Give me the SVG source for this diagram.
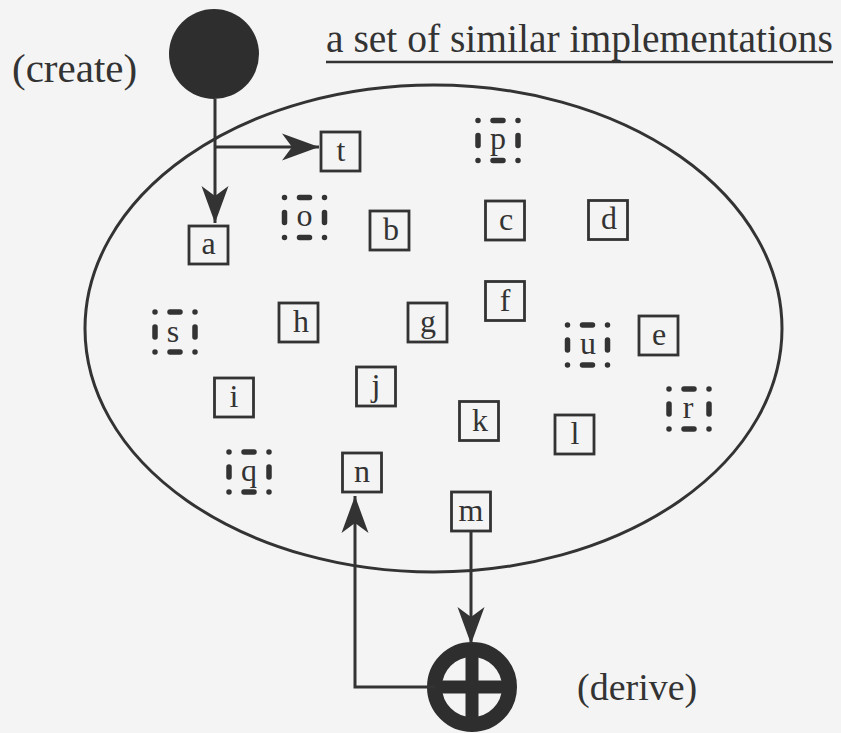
<svg xmlns="http://www.w3.org/2000/svg" width="841" height="733" viewBox="0 0 841 733">
  <defs>
    <style>
      text { font-family: "Liberation Serif", "Times New Roman", serif; fill: #333; }
      .lbl { font-size: 32px; text-anchor: middle; }
      .box { fill: none; stroke: #333; stroke-width: 2.8; }
      .dot { fill: none; stroke: #333; stroke-width: 5.5; stroke-linecap: round; stroke-dasharray: 0 15 10 15; }
      .wire { fill: none; stroke: #333; stroke-width: 3; }
    </style>
    <marker id="arrow" viewBox="0 0 38 30" refX="37" refY="15" markerUnits="userSpaceOnUse" markerWidth="38" markerHeight="30" orient="auto">
      <path d="M37,15 L0,1.5 L10,15 L0,28.5 Z" fill="#333"/>
    </marker>
  </defs>

  <rect width="841" height="733" fill="#f4f4f4"/>

  <!-- the set -->
  <ellipse cx="433.5" cy="328.5" rx="348.5" ry="243.5" fill="none" stroke="#333" stroke-width="3"/>
  <text x="326" y="52" font-size="39.5">a set of similar implementations</text>
  <line x1="326" y1="62" x2="833" y2="62" stroke="#333" stroke-width="2.5"/>

  <!-- create source -->
  <g id="create">
    <circle cx="214" cy="54" r="45" fill="#2e2e2e"/>
    <text x="12" y="82" font-size="41">(create)</text>
  </g>

  <!-- derive operator -->
  <g id="derive">
    <circle cx="472" cy="687" r="37.5" fill="none" stroke="#2e2e2e" stroke-width="15"/>
    <line x1="472" y1="650" x2="472" y2="724" stroke="#2e2e2e" stroke-width="13"/>
    <line x1="435" y1="687" x2="509" y2="687" stroke="#2e2e2e" stroke-width="13"/>
    <text x="577" y="700" font-size="38">(derive)</text>
  </g>

  <!-- implementations -->
  <g id="node-a"><rect class="box" x="189" y="226" width="39" height="38"/><text class="lbl" x="208.5" y="254">a</text></g>
  <g id="node-t"><rect class="box" x="321" y="132" width="39" height="39"/><text class="lbl" x="341" y="161">t</text></g>
  <g id="node-b"><rect class="box" x="370" y="211" width="39" height="39"/><text class="lbl" x="391" y="240">b</text></g>
  <g id="node-c"><rect class="box" x="485.5" y="201" width="39" height="39"/><text class="lbl" x="506" y="230">c</text></g>
  <g id="node-d"><rect class="box" x="588.5" y="200.5" width="39" height="39"/><text class="lbl" x="609" y="229">d</text></g>
  <g id="node-h"><rect class="box" x="279" y="303" width="39" height="39"/><text class="lbl" x="301" y="332">h</text></g>
  <g id="node-g"><rect class="box" x="408" y="303" width="39" height="39"/><text class="lbl" x="428" y="332">g</text></g>
  <g id="node-f"><rect class="box" x="485.5" y="281.5" width="39" height="39"/><text class="lbl" x="505" y="311">f</text></g>
  <g id="node-e"><rect class="box" x="639" y="316" width="39" height="39"/><text class="lbl" x="659" y="345">e</text></g>
  <g id="node-i"><rect class="box" x="214.5" y="378" width="39" height="39"/><text class="lbl" x="234" y="407">i</text></g>
  <g id="node-j"><rect class="box" x="356.5" y="367" width="39" height="39"/><text class="lbl" x="376" y="396">j</text></g>
  <g id="node-k"><rect class="box" x="459.5" y="401.5" width="39" height="39"/><text class="lbl" x="480" y="431">k</text></g>
  <g id="node-l"><rect class="box" x="555" y="415" width="39" height="39"/><text class="lbl" x="575" y="444">l</text></g>
  <g id="node-n"><rect class="box" x="342.5" y="453" width="39" height="39"/><text class="lbl" x="362" y="482">n</text></g>
  <g id="node-m"><rect class="box" x="451.5" y="492" width="39" height="39"/><text class="lbl" x="471" y="521">m</text></g>

  <!-- implementations no longer present -->
  <g id="node-p"><rect class="dot" x="478" y="120.5" width="40" height="40"/><text class="lbl" x="498" y="149">p</text></g>
  <g id="node-o"><rect class="dot" x="284.5" y="197.5" width="40" height="40"/><text class="lbl" x="304.5" y="226">o</text></g>
  <g id="node-s"><rect class="dot" x="155" y="312" width="40" height="40"/><text class="lbl" x="173" y="342">s</text></g>
  <g id="node-q"><rect class="dot" x="229" y="452" width="40" height="40"/><text class="lbl" x="249" y="481">q</text></g>
  <g id="node-u"><rect class="dot" x="567.5" y="325" width="40" height="40"/><text class="lbl" x="588" y="354">u</text></g>
  <g id="node-r"><rect class="dot" x="669" y="389" width="40" height="40"/><text class="lbl" x="688" y="418">r</text></g>

  <!-- connectors -->
  <g id="connectors">
    <path class="wire" d="M215,99 L215,223" marker-end="url(#arrow)"/>
    <path class="wire" d="M215,147 L319,147" marker-end="url(#arrow)"/>
    <path class="wire" d="M471,531 L471,644" marker-end="url(#arrow)"/>
    <path class="wire" d="M435,687 L355,687 L355,496" marker-end="url(#arrow)"/>
  </g>
</svg>
